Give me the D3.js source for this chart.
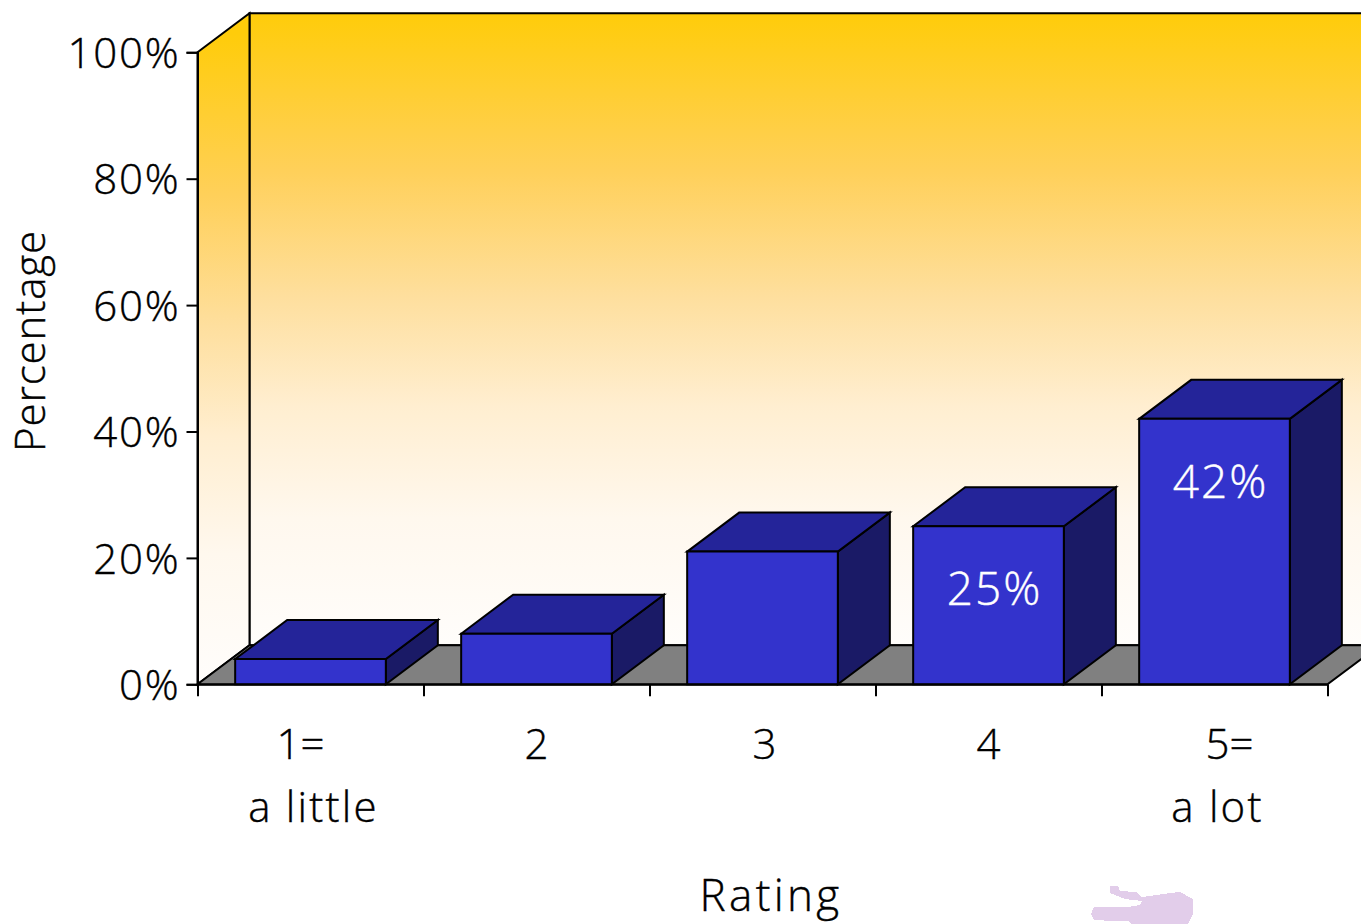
<!DOCTYPE html>
<html>
<head>
<meta charset="utf-8">
<script src="https://cdnjs.cloudflare.com/ajax/libs/d3/7.8.5/d3.min.js"></script>
<style>
html,body{margin:0;padding:0;background:#fff;overflow:hidden}
svg{display:block}
text{font-family:"Open Sans","Noto Sans",sans-serif;font-weight:300;fill:#000;stroke:#000;stroke-width:0.4px}
text.value{stroke:#fff}
</style>
</head>
<body>
<svg id="chart" width="1361" height="924"></svg>
<script>
// Chart data
const categories = ["1=", "2", "3", "4", "5="];
const subLabels = ["a little", "", "", "", "a lot"];
const percentages = [4, 8, 21, 25, 42];
const labelledValues = [null, null, null, 25, 42];
const yTicks = [0, 20, 40, 60, 80, 100];

const svg = d3.select("#chart");
const left = 197.5, right = 1327.5, base = 684.3, top100 = 52.3;
const depthX = 52, depthY = -39;
const fontSize = 42;

const x = d3.scaleBand().domain(categories).range([left, right]).paddingInner(1 / 3).paddingOuter(1 / 6);
const y = d3.scaleLinear().domain([0, 100]).range([base, top100]);
const xEdges = d3.scaleLinear().domain([0, categories.length]).range([left, right]);

// Wall gradients fade from amber at the top to near white at the floor
const defs = svg.append("defs");
const wallStops = [[0, "#ffcc0a"], [0.25, "#ffd05a"], [0.45, "#fedf9e"], [0.62, "#ffeed0"], [0.8, "#fff8ee"], [1, "#fffdfb"]];
function wallGradient(id, y1, y2) {
  const g = defs.append("linearGradient").attr("id", id)
    .attr("gradientUnits", "userSpaceOnUse")
    .attr("x1", 0).attr("x2", 0).attr("y1", y1).attr("y2", y2);
  wallStops.forEach(([o, c]) => g.append("stop").attr("offset", o).attr("stop-color", c));
}
wallGradient("backWall", y(100) + depthY, y(0) + depthY);
wallGradient("sideWall", y(100) + depthY / 2, y(0));

const poly = pts => pts.map(p => p.join(",")).join(" ");
function shape(points, fill) {
  return svg.append("polygon").attr("points", poly(points)).attr("fill", fill)
    .attr("stroke", "#000").attr("stroke-width", 2).attr("stroke-linejoin", "miter");
}

// Back wall, side wall, floor
shape([[left + depthX, y(100) + depthY], [right + depthX, y(100) + depthY], [right + depthX, y(0) + depthY], [left + depthX, y(0) + depthY]], "url(#backWall)");
shape([[left, y(100)], [left + depthX, y(100) + depthY], [left + depthX, y(0) + depthY], [left, y(0)]], "url(#sideWall)");
shape([[left, y(0)], [right, y(0)], [right + depthX, y(0) + depthY], [left + depthX, y(0) + depthY]], "#808080");

// Bars: side, top, front faces
categories.forEach((c, i) => {
  const x0 = x(c), x1 = x0 + x.bandwidth(), yt = y(percentages[i]);
  shape([[x1, yt], [x1 + depthX, yt + depthY], [x1 + depthX, base + depthY], [x1, base]], "#1a1a66");
  shape([[x0, yt], [x0 + depthX, yt + depthY], [x1 + depthX, yt + depthY], [x1, yt]], "#242499");
  shape([[x0, yt], [x1, yt], [x1, base], [x0, base]], "#3333cc");
});

// Value labels inside the last two bars
svg.selectAll("text.value").data(categories.map((c, i) => ({ c, v: labelledValues[i] })).filter(d => d.v !== null))
  .join("text").attr("class", "value")
  .attr("x", d => x(d.c) + x.bandwidth() / 2 + 6)
  .attr("y", d => y(d.v) + 79)
  .attr("text-anchor", "middle").attr("font-size", 46).attr("letter-spacing", 2)
  .style("fill", "#fff")
  .text(d => d.v + "%");

// Value axis
const yAxis = d3.axisLeft(y).tickValues(yTicks).tickFormat(d => d + "%").tickSize(11).tickPadding(6);
const gy = svg.append("g").attr("transform", `translate(${left},0)`).call(yAxis);
gy.attr("font-family", null);
gy.selectAll("text").attr("font-size", fontSize).attr("dy", "0.36em").attr("letter-spacing", 1.8).style("fill", "#000");
gy.selectAll("line,path").attr("stroke", "#000").attr("stroke-width", 2);

// Category axis with ticks on the band edges
const xAxis = d3.axisBottom(xEdges).ticks(categories.length).tickFormat("").tickSize(12).tickSizeOuter(0);
const gx = svg.append("g").attr("transform", `translate(0,${base})`).call(xAxis);
gx.selectAll("line,path").attr("stroke", "#000").attr("stroke-width", 2);

// Category labels, two lines for the ends of the scale
const firstLineShift = [-10, 0, 2, 0, 15];
svg.selectAll("text.cat").data(categories).join("text").attr("class", "cat")
  .attr("x", (d, i) => x(d) + x.bandwidth() / 2 + firstLineShift[i])
  .attr("y", 759).attr("text-anchor", "middle").attr("font-size", fontSize).text(d => d);
svg.selectAll("text.sub").data(categories).join("text").attr("class", "sub")
  .attr("x", d => x(d) + x.bandwidth() / 2 + 3)
  .attr("y", 822).attr("text-anchor", "middle").attr("font-size", fontSize).attr("letter-spacing", 2.2)
  .text((d, i) => subLabels[i]);

// Axis titles
svg.append("text").attr("x", 771).attr("y", 911).attr("text-anchor", "middle").attr("font-size", 44).attr("letter-spacing", 3.3).text("Rating");
svg.append("text").attr("transform", "translate(45,341) rotate(-90)").attr("text-anchor", "middle").attr("font-size", fontSize).attr("letter-spacing", 0.9).text("Percentage");

// Faint lilac smudge in the bottom margin
svg.append("path").attr("fill", "#e2cdea").attr("shape-rendering", "crispEdges")
  .attr("d", d3.line().curve(d3.curveLinearClosed)([[1110,886],[1118,886],[1120,891],[1136,892],[1142,897],[1170,893],[1180,892],[1193,899],[1193,914],[1188,924],[1132,924],[1128,921],[1114,921],[1094,920],[1091,914],[1094,907],[1128,907],[1140,905],[1142,901],[1125,899],[1110,893]]));
</script>
</body>
</html>
